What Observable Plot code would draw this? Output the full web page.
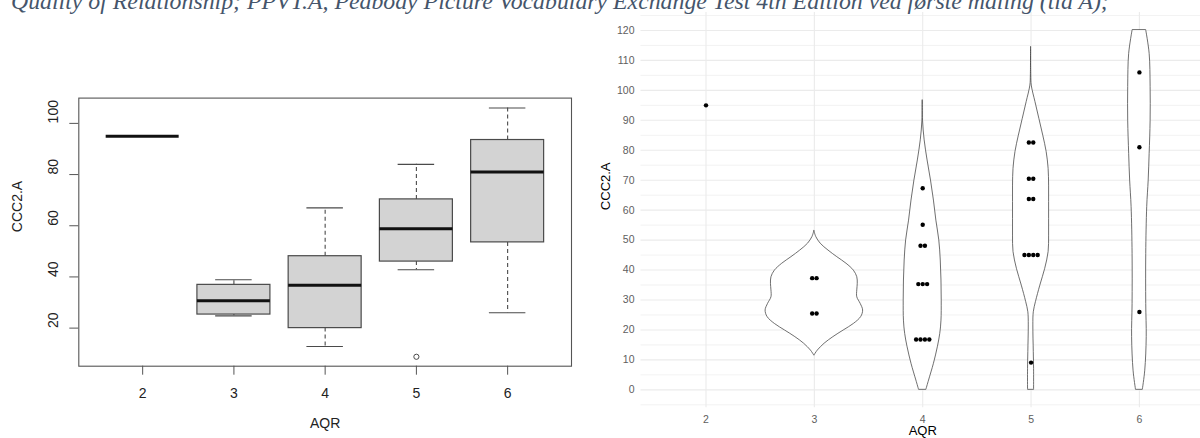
<!DOCTYPE html>
<html>
<head>
<meta charset="utf-8">
<script src="https://cdn.jsdelivr.net/npm/d3@7"></script>
<script src="https://cdn.jsdelivr.net/npm/@observablehq/plot@0.6"></script>
<style>
  html, body { margin: 0; padding: 0; background: white; }
  #wrap { position: relative; width: 1200px; height: 438px; overflow: hidden; background: white; }
  #left { position: absolute; left: 0; top: 0; }
  #right { position: absolute; left: 590px; top: 0; }
  #title { position: absolute; left: 11px; top: 0; white-space: nowrap; z-index: 3;
           font-family: "Liberation Serif", serif; font-style: italic; color: #45556b; line-height: 0; }
  svg { overflow: hidden; }
</style>
</head>
<body>
<div id="wrap">
  <div id="left"></div>
  <div id="right"></div>
  <div id="title"></div>
</div>
<script>
// ---------- data ----------
const titleText = "Quality of Relationship; PPVT.A, Peabody Picture Vocabulary Exchange Test 4th Edition ved første måling (tid A);";
const xLabel = "AQR";
const yLabel = "CCC2.A";

const groups = [2, 3, 4, 5, 6];

// left panel: boxplot statistics per AQR group
const boxLow     = [95, 24.8, 12.8, 42.8, 26];
const boxQ1      = [95, 25.3, 20.0, 46.0, 53.5];
const boxMedian  = [95, 30.7, 36.8, 58.8, 81];
const boxQ3      = [95, 36.9, 48.1, 70.3, 93.5];
const boxHigh    = [95, 38.9, 67.0, 84.0, 106];
const outlierGroup = [5];
const outlierValue = [8.8];
const leftYTicks = [20, 40, 60, 80, 100];

// right panel: violin outlines (value, relative half-width)
const violin3Y = [53.0, 51.0, 48.8, 46.5, 44.3, 42.1, 39.8, 37.6, 35.4, 33.2, 30.9, 28.7, 26.5, 24.3, 22.0, 19.8, 17.6, 15.4, 13.1, 11.4];
const violin3W = [0, 0.04, 0.13, 0.29, 0.47, 0.66, 0.81, 0.88, 0.89, 0.88, 0.88, 0.95, 1.0, 0.96, 0.81, 0.60, 0.39, 0.21, 0.07, 0];
const violin4Y = [96.6, 89.9, 83.3, 76.6, 69.9, 63.2, 56.5, 49.9, 43.2, 36.5, 29.8, 23.1, 18.7, 14.2, 8.7, 3.1, 0];
const violin4W = [0, 0.006, 0.04, 0.10, 0.17, 0.23, 0.28, 0.34, 0.37, 0.385, 0.39, 0.385, 0.36, 0.31, 0.23, 0.13, 0.075];
const violin5Y = [114.4, 105.0, 101.6, 96.1, 90.5, 84.9, 79.4, 73.8, 68.2, 62.7, 57.1, 51.5, 46.0, 40.4, 34.8, 29.3, 25.9, 21.5, 12.6, 7.0, 0];
const violin5W = [0, 0.004, 0.014, 0.09, 0.17, 0.25, 0.32, 0.36, 0.37, 0.37, 0.37, 0.37, 0.36, 0.29, 0.19, 0.10, 0.056, 0.047, 0.056, 0.062, 0.062];
const violin6Y = [120, 112.2, 101.1, 89.9, 78.8, 69.9, 61.0, 45.4, 28.7, 17.6, 6.4, 0];
const violin6W = [0.14, 0.21, 0.23, 0.23, 0.21, 0.19, 0.16, 0.14, 0.14, 0.15, 0.12, 0.07];

// right panel: dotplot (bin value, number of stacked dots)
const dotGroup = [2, 3, 3, 4, 4, 4, 4, 4, 5, 5, 5, 5, 5, 6, 6, 6];
const dotValue = [95, 37.3, 25.5, 67.3, 55.1, 48.1, 35.3, 16.8, 82.6, 70.5, 63.7, 45, 9.1, 106, 81, 26];
const dotCount = [1, 2, 2, 1, 1, 2, 3, 4, 2, 2, 2, 4, 1, 1, 1, 1];

const rightYMajor = d3.range(0, 121, 10);
const rightYMinor = d3.range(-5, 126, 10);

// ---------- left panel: base-R style boxplot ----------
const boxes = groups.map((g, i) => ({g, low: boxLow[i], q1: boxQ1[i], med: boxMedian[i], q3: boxQ3[i], high: boxHigh[i]}));
const realBoxes = boxes.filter(d => d.q3 > d.q1);
const outliers = outlierGroup.map((g, i) => ({g, v: outlierValue[i]}));
const halfBox = 0.4, halfStaple = 0.2;
const leftFont = "Liberation Sans, Arial, sans-serif";
const boxStroke = "#4a4a4a";

const left = Plot.plot({
  width: 590, height: 438,
  marginLeft: 78.3, marginRight: 19, marginTop: 97.6, marginBottom: 72.3,
  style: {fontFamily: leftFont, background: "white", color: "#222"},
  x: {type: "linear", domain: [1.3, 6.7], axis: null},
  y: {type: "linear", domain: [5.12, 109.88], axis: null},
  marks: [
    Plot.ruleX(realBoxes, {x: "g", y1: "q3", y2: "high", stroke: boxStroke, strokeWidth: 1.1, strokeDasharray: "4,3"}),
    Plot.ruleX(realBoxes, {x: "g", y1: "q1", y2: "low", stroke: boxStroke, strokeWidth: 1.1, strokeDasharray: "4,3"}),
    Plot.ruleY(realBoxes, {y: "high", x1: d => d.g - halfStaple, x2: d => d.g + halfStaple, stroke: boxStroke, strokeWidth: 1.1}),
    Plot.ruleY(realBoxes, {y: "low", x1: d => d.g - halfStaple, x2: d => d.g + halfStaple, stroke: boxStroke, strokeWidth: 1.1}),
    Plot.rect(realBoxes, {x1: d => d.g - halfBox, x2: d => d.g + halfBox, y1: "q1", y2: "q3", fill: "#d3d3d3", stroke: boxStroke, strokeWidth: 1.2}),
    Plot.ruleY(boxes, {y: "med", x1: d => d.g - halfBox, x2: d => d.g + halfBox, stroke: "#111", strokeWidth: 3}),
    Plot.dot(outliers, {x: "g", y: "v", r: 2.6, stroke: boxStroke, strokeWidth: 1, fill: "none"}),
    Plot.frame({stroke: "#555", strokeWidth: 1.1}),
    Plot.axisX(groups, {anchor: "bottom", tickSize: 9, tickPadding: 13, fontSize: 14, stroke: "#555", fill: "#222", label: null}),
    Plot.axisY(leftYTicks, {anchor: "left", tickSize: 9, tickFormat: () => "", stroke: "#555", label: null}),
    Plot.text(leftYTicks, {y: d => d, text: d => String(d), frameAnchor: "left", dx: -25, rotate: -90, fontSize: 14, fill: "#222"}),
    Plot.text([xLabel], {frameAnchor: "bottom", dy: 62, fontSize: 14, fill: "#222"}),
    Plot.text([yLabel], {frameAnchor: "left", dx: -61, rotate: -90, fontSize: 14, fill: "#222"})
  ]
});
document.getElementById("left").appendChild(left);

// ---------- right panel: ggplot-style violin + dotplot ----------
const violinHalfMax = 0.45;
const violinRows = [
  [3, violin3Y, violin3W], [4, violin4Y, violin4W], [5, violin5Y, violin5W], [6, violin6Y, violin6W]
].flatMap(([g, ys, ws]) => ys.map((y, i) => ({g, y, w: ws[i] * violinHalfMax})));

const pxPerUnit = 108.35;
const dotStep = 4.4 / pxPerUnit;
const dotRows = dotGroup.flatMap((g, i) => d3.range(dotCount[i]).map(k => ({g, v: dotValue[i], k: k - (dotCount[i] - 1) / 2})));

const rightFont = "Liberation Sans, Arial, sans-serif";
const right = Plot.plot({
  width: 610, height: 438,
  marginLeft: 50.5, marginRight: 0, marginTop: 12, marginBottom: 30.7,
  style: {fontFamily: rightFont, background: "white"},
  x: {type: "linear", domain: [1.4, 1.4 + 559.5 / pxPerUnit], axis: null},
  y: {type: "linear", domain: [-6, 126], axis: null},
  marks: [
    Plot.ruleY(rightYMinor, {stroke: "#ededed", strokeWidth: 0.7}),
    Plot.ruleY(rightYMajor, {stroke: "#ebebeb", strokeWidth: 1.1}),
    Plot.ruleX(groups, {stroke: "#ebebeb", strokeWidth: 1.1}),
    Plot.areaX(violinRows, {y: "y", x1: d => d.g - d.w, x2: d => d.g + d.w, z: "g", fill: "white", stroke: "#4a4a4a", strokeWidth: 0.8, curve: "catmull-rom"}),
    Plot.dot(dotRows, {x: d => d.g + d.k * dotStep, y: "v", r: 2.2, fill: "black", stroke: "none"}),
    Plot.axisY(rightYMajor, {anchor: "left", tickSize: 0, tickPadding: 6.5, fontSize: 10.5, fill: "#5e5e5e", label: null}),
    Plot.axisX(groups, {anchor: "bottom", tickSize: 0, tickPadding: 7.5, fontSize: 10.5, fill: "#5e5e5e", label: null}),
    Plot.text([xLabel], {x: [4], frameAnchor: "bottom", dy: 27, fontSize: 13, fill: "black"}),
    Plot.text([yLabel], {frameAnchor: "left", dx: -34.8, rotate: -90, fontSize: 13, fill: "black"})
  ]
});
document.getElementById("right").appendChild(right);

// ---------- title (cropped at the top, as in the reference) ----------
const titleEl = document.getElementById("title");
titleEl.textContent = titleText;
const ctx = document.createElement("canvas").getContext("2d");
ctx.font = "italic 24px 'Liberation Serif'";
const w24 = ctx.measureText(titleText).width;
const fs = 24 * 1099 / w24;
titleEl.style.fontSize = fs + "px";
titleEl.style.top = (8.6 - fs * 0.3375) + "px";
</script>
</body>
</html>
